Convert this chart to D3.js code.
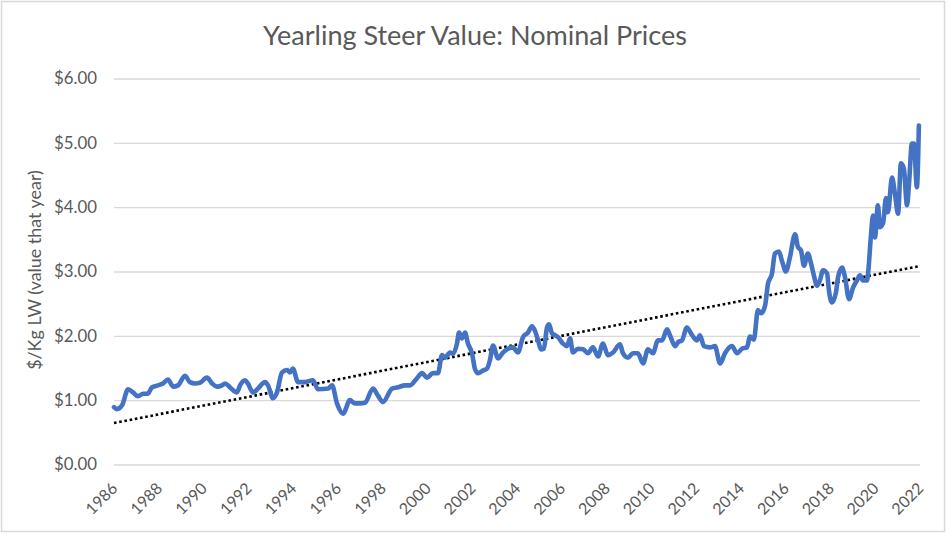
<!DOCTYPE html>
<html>
<head>
<meta charset="utf-8">
<script src="https://cdn.jsdelivr.net/npm/d3@7"></script>
<style>
  html, body { margin: 0; padding: 0; background: #fff; }
  svg { display: block; }
  text { font-family: Lato, "Open Sans", sans-serif; fill: #595959; }
</style>
</head>
<body>
<svg id="chart" width="949" height="537"></svg>
<script>
const titleText = "Yearling Steer Value: Nominal Prices";
const yAxisTitle = "$/Kg LW (value that year)";
const yTicks = [0, 1, 2, 3, 4, 5, 6];
const xTicks = [1986, 1988, 1990, 1992, 1994, 1996, 1998, 2000, 2002, 2004, 2006, 2008, 2010, 2012, 2014, 2016, 2018, 2020, 2022];

const years = [
  1986.00, 1986.13, 1986.36, 1986.63, 1986.85, 1987.07, 1987.30, 1987.50, 1987.70, 1987.97,
  1988.19, 1988.41, 1988.64, 1988.86, 1989.17, 1989.39, 1989.62, 1989.84, 1990.15, 1990.38,
  1990.60, 1990.82, 1990.96, 1991.18, 1991.49, 1991.63, 1991.85, 1991.98, 1992.21, 1992.43,
  1992.74, 1992.88, 1993.10, 1993.28, 1993.50, 1993.73, 1993.86, 1993.99, 1994.22, 1994.53,
  1994.89, 1995.11, 1995.56, 1995.74, 1995.96, 1996.23, 1996.54, 1996.76, 1996.99, 1997.21,
  1997.57, 1997.79, 1998.01, 1998.42, 1998.68, 1999.00, 1999.22, 1999.53, 1999.76, 1999.98,
  2000.25, 2000.47, 2000.65, 2000.78, 2001.01, 2001.14, 2001.32, 2001.41, 2001.54, 2001.68,
  2001.81, 2001.99, 2002.12, 2002.26, 2002.48, 2002.66, 2002.79, 2002.93, 2003.15, 2003.37,
  2003.60, 2003.82, 2004.04, 2004.27, 2004.49, 2004.67, 2004.80, 2004.94, 2005.07, 2005.20,
  2005.34, 2005.43, 2005.56, 2005.70, 2005.83, 2006.05, 2006.23, 2006.37, 2006.50, 2006.72,
  2006.95, 2007.17, 2007.39, 2007.62, 2007.84, 2008.06, 2008.29, 2008.60, 2008.73, 2008.96,
  2009.18, 2009.40, 2009.63, 2009.85, 2010.07, 2010.30, 2010.48, 2010.70, 2010.83, 2011.06,
  2011.19, 2011.37, 2011.59, 2011.82, 2012.04, 2012.17, 2012.35, 2012.62, 2012.84, 2013.07,
  2013.29, 2013.60, 2013.83, 2014.05, 2014.27, 2014.41, 2014.58, 2014.76, 2014.90, 2015.08,
  2015.21, 2015.39, 2015.52, 2015.70, 2015.83, 2016.01, 2016.19, 2016.42, 2016.55, 2016.68,
  2016.82, 2016.99, 2017.13, 2017.26, 2017.40, 2017.53, 2017.67, 2017.85, 2017.93, 2018.07,
  2018.25, 2018.34, 2018.52, 2018.65, 2018.83, 2019.01, 2019.18, 2019.32, 2019.45, 2019.63,
  2019.68, 2019.81, 2019.90, 2019.99, 2020.12, 2020.21, 2020.35, 2020.48, 2020.57, 2020.75,
  2020.88, 2021.02, 2021.15, 2021.28, 2021.42, 2021.51, 2021.64, 2021.73, 2021.86, 2021.95
];
const values = [
  0.89, 0.86, 0.92, 1.17, 1.12, 1.06, 1.10, 1.10, 1.20, 1.23,
  1.26, 1.32, 1.21, 1.23, 1.38, 1.28, 1.26, 1.27, 1.35, 1.26,
  1.21, 1.23, 1.26, 1.20, 1.12, 1.23, 1.31, 1.26, 1.12, 1.18,
  1.28, 1.23, 1.03, 1.12, 1.43, 1.47, 1.43, 1.49, 1.28, 1.28,
  1.31, 1.17, 1.18, 1.23, 0.95, 0.79, 1.00, 0.95, 0.95, 0.96,
  1.18, 1.07, 0.97, 1.18, 1.20, 1.23, 1.23, 1.34, 1.42, 1.35,
  1.42, 1.42, 1.70, 1.66, 1.74, 1.72, 1.88, 2.05, 1.96, 2.05,
  1.88, 1.73, 1.49, 1.42, 1.46, 1.49, 1.62, 1.85, 1.65, 1.74,
  1.80, 1.82, 1.74, 1.98, 2.05, 2.15, 2.08, 1.93, 1.79, 1.80,
  2.13, 2.18, 2.04, 2.01, 1.98, 1.88, 1.84, 1.96, 1.74, 1.80,
  1.79, 1.73, 1.82, 1.68, 1.88, 1.70, 1.74, 1.87, 1.73, 1.66,
  1.73, 1.73, 1.57, 1.79, 1.73, 1.93, 1.93, 2.10, 2.01, 1.84,
  1.90, 1.93, 2.13, 2.01, 1.93, 2.01, 1.84, 1.82, 1.84, 1.57,
  1.73, 1.84, 1.73, 1.80, 1.82, 1.99, 1.94, 2.40, 2.35, 2.47,
  2.81, 2.97, 3.28, 3.31, 3.17, 3.00, 3.22, 3.58, 3.38, 3.33,
  3.09, 3.28, 3.13, 2.94, 2.78, 2.86, 3.02, 2.97, 2.71, 2.52,
  2.68, 2.91, 3.06, 2.91, 2.57, 2.75, 2.86, 2.94, 2.86, 2.86,
  2.97, 3.56, 3.87, 3.53, 4.03, 3.69, 3.75, 4.14, 3.92, 4.46,
  4.21, 3.90, 4.68, 4.60, 4.03, 4.37, 4.99, 4.99, 4.31, 5.27
];
const trendYears = [1986, 2022];
const trendValues = [0.645, 3.085];

const svg = d3.select("#chart");
const W = 949, H = 537;
const plot = { left: 114, right: 920, top: 78.5, bottom: 464.5 };

// outer border
svg.append("rect")
  .attr("x", 1.5).attr("y", 1.5).attr("width", 943).attr("height", 530)
  .attr("fill", "#fff").attr("stroke", "#d9d9d9").attr("stroke-width", 1.5);

const x = d3.scaleLinear().domain([1986, 2022]).range([plot.left, plot.right]);
const y = d3.scaleLinear().domain([0, 6]).range([plot.bottom, plot.top]);

function fit(sel, target) {
  const w = sel.node().getComputedTextLength();
  const fs = parseFloat(sel.attr("font-size"));
  return fs * target / w;
}

// Y axis with gridlines
const yAxis = svg.append("g")
  .attr("transform", `translate(${plot.left},0)`)
  .call(d3.axisLeft(y).tickValues(yTicks).tickSize(-(plot.right - plot.left))
    .tickPadding(17).tickFormat(d => "$" + d3.format(".2f")(d)));
yAxis.select(".domain").remove();
yAxis.selectAll(".tick line").attr("stroke", "#d9d9d9").attr("stroke-width", 1.4);
yAxis.selectAll(".tick text").attr("font-size", 18).attr("fill", "#595959")
  .attr("font-family", "Lato, 'Open Sans', sans-serif");
{
  const t6 = yAxis.selectAll(".tick text").filter(d => d === 6);
  const fs = fit(t6, 43);
  yAxis.selectAll(".tick text").attr("font-size", fs);
}

// X axis labels
const xAxis = svg.append("g")
  .attr("transform", `translate(0,${plot.bottom})`)
  .call(d3.axisBottom(x).tickValues(xTicks).tickSize(0).tickFormat(d3.format("d")));
xAxis.select(".domain").remove();
xAxis.selectAll(".tick text")
  .attr("font-size", 18).attr("fill", "#595959")
  .attr("font-family", "Lato, 'Open Sans', sans-serif")
  .attr("text-anchor", "end").attr("x", 0).attr("y", 0).attr("dy", 0)
  .attr("transform", "translate(4,25) rotate(-45)");
{
  const t = xAxis.selectAll(".tick text").filter(d => d === 1986);
  const fs = fit(t, 37);
  xAxis.selectAll(".tick text").attr("font-size", fs);
}

// Trend line (dotted)
const trendData = trendYears.map((yr, i) => [yr, trendValues[i]]);
svg.append("path")
  .datum(trendData)
  .attr("d", d3.line().x(d => x(d[0])).y(d => y(d[1])))
  .attr("fill", "none").attr("stroke", "#000")
  .attr("stroke-width", 2.6).attr("stroke-dasharray", "2.6 2.7");

// Data line
const series = years.map((yr, i) => [yr, values[i]]);
svg.append("path")
  .datum(series)
  .attr("d", d3.line().x(d => x(d[0])).y(d => y(d[1])).curve(d3.curveMonotoneX))
  .attr("fill", "none").attr("stroke", "#4472C4")
  .attr("stroke-width", 4.6).attr("stroke-linejoin", "round").attr("stroke-linecap", "round");

// Title
const title = svg.append("text")
  .attr("x", 475).attr("y", 45).attr("text-anchor", "middle")
  .attr("font-size", 24).attr("fill", "#595959").text(titleText);
title.attr("font-size", fit(title, 424));

// Y axis title
const yt = svg.append("text")
  .attr("transform", "translate(41,270) rotate(-90)")
  .attr("text-anchor", "middle")
  .attr("font-size", 18).attr("fill", "#595959").text(yAxisTitle);
yt.attr("font-size", fit(yt, 200));
</script>
</body>
</html>
